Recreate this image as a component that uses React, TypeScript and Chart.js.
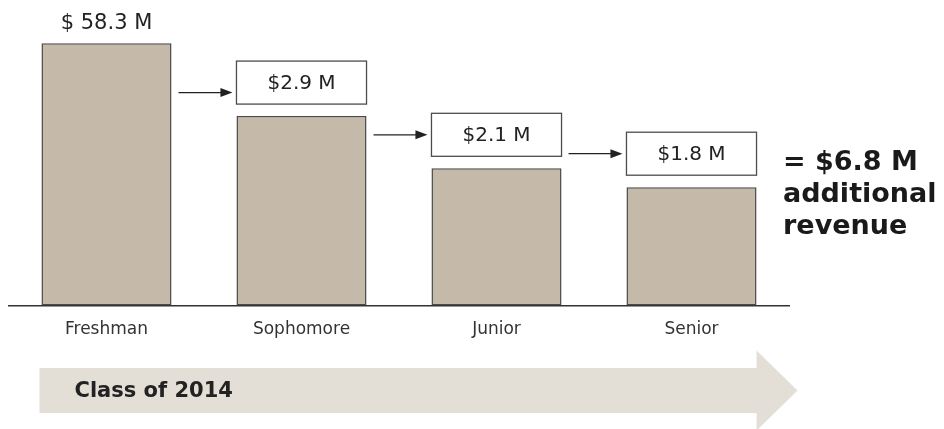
import React, { useEffect, useRef } from "react";
import { Chart, registerables } from "chart.js";

Chart.register(...registerables);

// ---- data ----
const categories = ["Freshman", "Sophomore", "Junior", "Senior"];
// relative bar heights (revenue retained per class year, $M scale)
const barValues = [58.3, 42.1, 30.5, 26.3];
const topLabels = ["$ 58.3 M", "", "", ""];
const incrementLabels = ["", "$2.9 M", "$2.1 M", "$1.8 M"];
const totalLines = ["= $6.8 M", "additional", "revenue"];
const timelineLabel = "Class of 2014";

const FONT = "'DejaVu Sans', sans-serif";

const overlayPlugin = {
  id: "overlay",
  afterDraw(chart: any) {
    const ctx = chart.ctx as CanvasRenderingContext2D;
    const area = chart.chartArea;
    const meta = chart.getDatasetMeta(0);
    const bars = meta.data.map((b: any) => b.getProps(["x", "y", "width", "base"], true));
    ctx.save();

    // top labels
    ctx.fillStyle = "#222";
    ctx.textAlign = "center";
    ctx.textBaseline = "middle";
    ctx.font = `21px ${FONT}`;
    bars.forEach((b: any, i: number) => {
      if (topLabels[i]) ctx.fillText(topLabels[i], b.x, b.y - 20);
    });

    // increment boxes + arrows
    const boxH = 43;
    const gap = 12;
    bars.forEach((b: any, i: number) => {
      if (!incrementLabels[i]) return;
      const left = b.x - b.width / 2;
      const bottom = b.y - gap;
      const top = bottom - boxH;
      ctx.fillStyle = "#fff";
      ctx.fillRect(left, top, b.width, boxH);
      ctx.strokeStyle = "#4d4d4d";
      ctx.lineWidth = 1.3;
      ctx.strokeRect(left, top, b.width, boxH);
      ctx.fillStyle = "#222";
      ctx.font = `20px ${FONT}`;
      ctx.fillText(incrementLabels[i], b.x, top + boxH / 2 + 1);

      const prev = bars[i - 1];
      const ax0 = prev.x + prev.width / 2 + 7;
      const ax1 = left - 4;
      const ay = top + boxH / 2 + (i === 1 ? 10 : 0);
      ctx.strokeStyle = "#222";
      ctx.lineWidth = 1.2;
      ctx.beginPath();
      ctx.moveTo(ax0, ay);
      ctx.lineTo(ax1 - 8, ay);
      ctx.stroke();
      ctx.fillStyle = "#222";
      ctx.beginPath();
      ctx.moveTo(ax1, ay);
      ctx.lineTo(ax1 - 12, ay - 4.5);
      ctx.lineTo(ax1 - 12, ay + 4.5);
      ctx.closePath();
      ctx.fill();
    });

    // total text
    ctx.fillStyle = "#1a1a1a";
    ctx.textAlign = "left";
    ctx.font = `bold 27px ${FONT}`;
    totalLines.forEach((t, i) => {
      ctx.fillText(t, area.right - 6, area.top + 150 + i * 32);
    });

    // timeline arrow
    const last = bars[bars.length - 1];
    const first = bars[0];
    const headX = last.x + last.width / 2;
    const sx = first.x - first.width / 2 - 2;
    const cy = area.bottom + 85;
    ctx.fillStyle = "#e3dfd7";
    ctx.beginPath();
    ctx.moveTo(sx, cy - 22.5);
    ctx.lineTo(headX, cy - 22.5);
    ctx.lineTo(headX, cy - 40);
    ctx.lineTo(headX + 41, cy);
    ctx.lineTo(headX, cy + 40);
    ctx.lineTo(headX, cy + 22.5);
    ctx.lineTo(sx, cy + 22.5);
    ctx.closePath();
    ctx.fill();
    ctx.fillStyle = "#222";
    ctx.font = `bold 21px ${FONT}`;
    ctx.textAlign = "left";
    ctx.fillText(timelineLabel, sx + 35, cy + 1);

    ctx.restore();
  },
};

export default function App() {
  const ref = useRef<HTMLCanvasElement | null>(null);
  useEffect(() => {
    if (!ref.current) return;
    const chart = new Chart(ref.current, {
      type: "bar",
      data: {
        labels: categories,
        datasets: [
          {
            data: barValues,
            backgroundColor: "#c5b9a9",
            borderColor: "#4a4a4a",
            borderWidth: 1.5,
            borderSkipped: false,
            categoryPercentage: 0.667,
            barPercentage: 1,
          },
        ],
      },
      options: {
        animation: false,
        responsive: true,
        maintainAspectRatio: false,
        layout: { padding: { left: 9, right: 155, top: 13, bottom: 75 } },
        plugins: { legend: { display: false }, tooltip: { enabled: false } },
        scales: {
          x: {
            grid: { display: false, drawTicks: false },
            border: { display: true, color: "#333", width: 1.5 },
            ticks: { color: "#333", font: { family: FONT, size: 17 }, padding: 14 },
          },
          y: { display: false, min: 0, max: 65 },
        },
      },
      plugins: [overlayPlugin],
    });
    return () => chart.destroy();
  }, []);
  return (
    <div style={{ position: "fixed", left: 0, top: 0, width: 944, height: 429, background: "#fff" }}>
      <canvas ref={ref} />
    </div>
  );
}
